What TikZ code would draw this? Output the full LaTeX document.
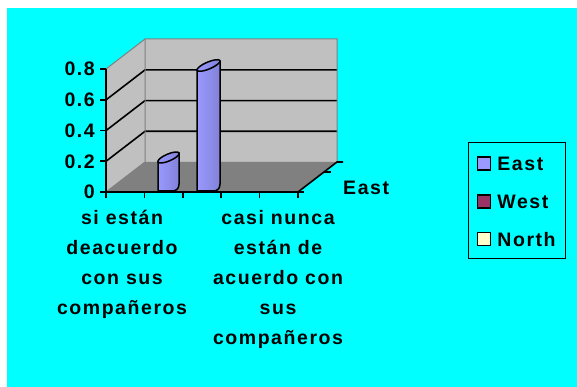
\documentclass[tikz,border=0pt]{standalone}
\usepackage{fontspec}
\usepackage{xcolor}
\usetikzlibrary{positioning}
\newfontfamily\chartfont{Liberation Sans Bold}[LetterSpace=8]
\definecolor{bg}{RGB}{0,255,255}
\definecolor{wall}{RGB}{192,192,192}
\definecolor{flr}{RGB}{128,128,128}
\definecolor{east}{RGB}{153,153,255}
\definecolor{west}{RGB}{153,51,102}
\definecolor{north}{RGB}{255,255,204}

\begin{document}
\begin{tikzpicture}[x=1pt,y=-1pt,%
  edge/.style={draw=flr,line width=1pt},%
  axis/.style={black,line width=1.6pt},%
  bar/.style={draw=black,line width=1.5pt,line join=round,left color=east,right color=east!85!black},%
  txt/.style={font=\chartfont\fontsize{19.5}{30}\selectfont,inner sep=0pt},%
  key/.style={draw=black,line width=1.4pt,minimum size=13pt,inner sep=0pt}%
  ]
  \fill[white] (0,0) rectangle (577,387);
  \fill[bg] (7,8) rectangle (577,387);
  \useasboundingbox (0,0) rectangle (577,387);
%
  \fill[wall] (106,192) -- (145,162) -- (145,39) -- (106,69) -- cycle;
  \fill[wall] (145,162) rectangle (337,39);
  \fill[flr] (106,192) -- (298,192) -- (337,162) -- (145,162) -- cycle;
%
  \foreach \v in {0.2,0.4,0.6}
    \draw[axis] (106,192-153.5*\v) -- ++(39,-30) -- ++(192,0);
  \draw[edge] (106,69) -- (145,39) -- (337,39) -- (337,162);
  \draw[edge] (145,39) -- (145,162) -- (106,192);
%
  \draw[axis] (106,69) -- (106,192) -- (298,192) -- (337,162) -- (343,162);
  \foreach \x in {106,144.4,182.8,221.2,259.6,298}
    \draw[axis] (\x,192) -- (\x,198);
  \draw[axis] (298,192) -- (304,192);
  \draw[axis] (324,172) -- (331,172);
%
  \foreach \v [count=\i] in {0,0.2,0.4,0.6,0.8} {
    \draw[axis] (100,192-153.5*\v) -- (106,192-153.5*\v);
    \node[txt,anchor=east] (y-\i) at (95,192-153.5*\v) {\v};
  }
%
  \foreach \xa/\xb/\yt/\r in {158/179/162/11.5, 197/220/70/12.5} {
    \draw[bar] (\xa,191) -- (\xa,\yt) -- (\xb,\yt-9) -- (\xb,184)
      .. controls (\xb,189) and (\xb-3,191) .. (\xb-7,191) -- cycle;
    \draw[bar,rotate around={23:({(\xa+\xb)/2},\yt-4.5)}]
      ({(\xa+\xb)/2},\yt-4.5) ellipse [x radius=\r pt,y radius=3.5pt];
  }
%
  \node[txt,align=center,anchor=base] (c-1) at (122,314) {si están\\deacuerdo\\con sus\\compañeros};
  \node[txt,align=center,anchor=base] (c-2) at (278,344) {casi nunca\\están de\\acuerdo con\\sus\\compañeros};
  \node[txt,anchor=base west] (z-1) at (343,194) {East};
%
  \node[draw=black,line width=1.4pt,minimum width=97pt,minimum height=116pt,anchor=north west] (leg) at (468,142) {};
  \foreach \c/\t/\y in {east/East/163.5, west/West/201.5, north/North/239} {
    \node[key,fill=\c] (k-\t) at (484,\y) {};
    \node[txt,anchor=base west] (l-\t) at ([xshift=6pt]k-\t.south east) {\t};
  }
%
\end{tikzpicture}
\end{document}
